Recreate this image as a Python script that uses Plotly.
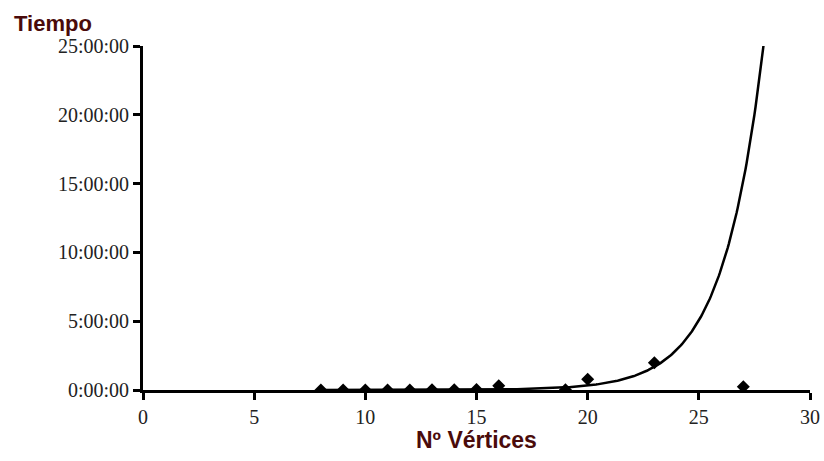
import numpy as np
import plotly.graph_objects as go

# Data (hours)
vertices = [8, 9, 10, 11, 12, 13, 14, 15, 16, 19, 20, 23, 27]
tiempo_h = [0.001, 0.002, 0.003, 0.005, 0.008, 0.012, 0.02, 0.04, 0.3, 0.01, 0.78, 1.98, 0.24]

# Exponential trendline coefficients: y = a * exp(b * x)
trend_a = 5.4e-6
trend_b = 0.55
trend_x_start = 8
trend_x_end = 28

y_tick_vals = [0, 5, 10, 15, 20, 25]
y_tick_text = ["0:00:00", "5:00:00", "10:00:00", "15:00:00", "20:00:00", "25:00:00"]
x_tick_vals = [0, 5, 10, 15, 20, 25, 30]

tx = np.linspace(trend_x_start, trend_x_end, 400)
ty = trend_a * np.exp(trend_b * tx)

title_color = "#4a0b0b"
serif = "Liberation Serif, Times New Roman, serif"
sans = "Liberation Sans, Arial, sans-serif"

fig = go.Figure()
fig.add_trace(go.Scatter(x=tx, y=ty, mode="lines",
                         line=dict(color="black", width=2.5), hoverinfo="skip"))
fig.add_trace(go.Scatter(x=vertices, y=tiempo_h, mode="markers",
                         marker=dict(symbol="diamond", size=10, color="black")))

axis_common = dict(showgrid=False, zeroline=False, automargin=False,
                   showline=True, linecolor="black", linewidth=3,
                   ticks="outside", ticklen=7, tickwidth=3, tickcolor="black",
                   tickfont=dict(family=serif, size=20, color="#222222"))

fig.update_layout(
    width=824, height=461,
    margin=dict(l=143, r=14, t=46, b=71, autoexpand=False),
    paper_bgcolor="white", plot_bgcolor="white",
    showlegend=False,
    xaxis=dict(range=[0, 30], tickvals=x_tick_vals, **axis_common),
    yaxis=dict(range=[0, 25], tickvals=y_tick_vals, ticktext=y_tick_text, **axis_common),
    annotations=[
        dict(text="<b>Tiempo</b>", xref="paper", yref="paper", x=-131/667, y=1 + 23/344,
             xanchor="left", yanchor="middle", showarrow=False,
             font=dict(family=sans, size=22, color=title_color)),
        dict(text="<b>Nº Vértices</b>", xref="paper", yref="paper", x=0.5, y=-50/344,
             xanchor="center", yanchor="middle", showarrow=False,
             font=dict(family=sans, size=23, color=title_color)),
    ],
)

fig.write_html("out.html", config={"displayModeBar": False},
               post_script="document.body.style.margin='0';document.body.style.overflow='hidden';")
